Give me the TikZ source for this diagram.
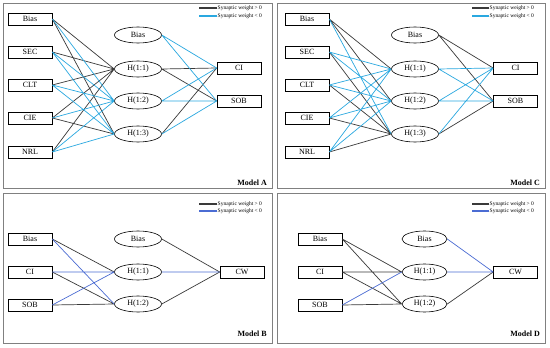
\documentclass[tikz,border=0pt]{standalone}
\usepackage{fontspec}
\setmainfont{Liberation Serif}
\usepackage{xcolor}
\usepackage{tikz}
\usetikzlibrary{shapes.geometric}
\definecolor{nnblack}{HTML}{3a3a3a}
\definecolor{nncyan}{HTML}{2aa8e0}
\definecolor{nnblue}{HTML}{4b6cd3}
\definecolor{nnframe}{HTML}{808080}

\begin{document}
\begin{tikzpicture}[x=1pt,y=-1pt,
  inbox/.style={draw=black,fill=white,line width=0.6pt,minimum width=44pt,minimum height=12pt,inner sep=0pt,font=\fontsize{8}{9}\selectfont},
  hidnode/.style={ellipse,draw=black,fill=white,line width=0.6pt,minimum width=47pt,minimum height=16pt,inner sep=0pt,font=\fontsize{8}{9}\selectfont},
  wpos/.style={nnblack,line width=0.7pt},
  wnegc/.style={nncyan,line width=0.7pt},
  wnegb/.style={nnblue,line width=0.7pt},
  legtext/.style={anchor=west,inner sep=0.5pt,font=\fontsize{5.5}{6}\selectfont},
  modeltag/.style={anchor=east,inner sep=0pt,font=\bfseries\fontsize{8}{9}\selectfont},
  panel/.style={draw=nnframe,line width=1pt}]
  \useasboundingbox (0,0) rectangle (550,348);
  \fill[white] (0,0) rectangle (550,348);
  % panels
  \draw[panel] (3,3) rectangle (272,188);
  \draw[panel] (277,3) rectangle (545,188);
  \draw[panel] (3,193) rectangle (272,343);
  \draw[panel] (277,193) rectangle (545,343);

  % Model A
  \node[inbox] (aIBias) at (30,19) {Bias};
  \node[inbox] (aSEC) at (30,52) {SEC};
  \node[inbox] (aCLT) at (30,85) {CLT};
  \node[inbox] (aCIE) at (30,118) {CIE};
  \node[inbox] (aNRL) at (30,152) {NRL};
  \node[hidnode] (aHBias) at (138,35) {Bias};
  \node[hidnode] (aH1) at (138,69) {H(1:1)};
  \node[hidnode] (aH2) at (138,101) {H(1:2)};
  \node[hidnode] (aH3) at (138,134) {H(1:3)};
  \node[inbox] (aCI) at (239,68) {CI};
  \node[inbox] (aSOB) at (239,101) {SOB};
  \draw[wpos] (aIBias.east) -- (aH1.west) (aIBias.east) -- (aH3.west)
    (aSEC.east) -- (aH1.west) (aCLT.east) -- (aH1.west)
    (aCIE.east) -- (aH1.west) (aCIE.east) -- (aH3.west) (aNRL.east) -- (aH1.west);
  \draw[wnegc] (aIBias.east) -- (aH2.west) (aSEC.east) -- (aH2.west) (aSEC.east) -- (aH3.west)
    (aCLT.east) -- (aH2.west) (aCLT.east) -- (aH3.west) (aCIE.east) -- (aH2.west)
    (aNRL.east) -- (aH2.west) (aNRL.east) -- (aH3.west);
  \draw[wpos] (aH1.east) -- (aCI.west) (aH1.east) -- (aSOB.west) (aH3.east) -- (aCI.west);
  \draw[wnegc] (aHBias.east) -- (aCI.west) (aHBias.east) -- (aSOB.west)
    (aH2.east) -- (aCI.west) (aH2.east) -- (aSOB.west) (aH3.east) -- (aSOB.west);
  \node[legtext] (aLegPos) at (217,8) {Synaptic weight > 0};
  \node[legtext] (aLegNeg) at (217,16) {Synaptic weight < 0};
  \draw[nnblack,line width=2.5pt] (199,8) -- (aLegPos.west);
  \draw[nncyan,line width=2.5pt] (199,16) -- (aLegNeg.west);
  \node[modeltag] (aTag) at (267,183) {Model A};

  % Model C
  \node[inbox] (cIBias) at (307,19) {Bias};
  \node[inbox] (cSEC) at (307,52) {SEC};
  \node[inbox] (cCLT) at (307,85) {CLT};
  \node[inbox] (cCIE) at (307,118) {CIE};
  \node[inbox] (cNRL) at (307,152) {NRL};
  \node[hidnode] (cHBias) at (415,35) {Bias};
  \node[hidnode] (cH1) at (415,69) {H(1:1)};
  \node[hidnode] (cH2) at (415,101) {H(1:2)};
  \node[hidnode] (cH3) at (415,134) {H(1:3)};
  \node[inbox] (cCI) at (515.5,68) {CI};
  \node[inbox] (cSOB) at (515.5,101) {SOB};
  \draw[wpos] (cIBias.east) -- (cH1.west) (cIBias.east) -- (cH2.west)
    (cSEC.east) -- (cH3.west) (cCLT.east) -- (cH3.west)
    (cCIE.east) -- (cH3.west) (cNRL.east) -- (cH3.west);
  \draw[wnegc] (cIBias.east) -- (cH3.west) (cSEC.east) -- (cH1.west) (cSEC.east) -- (cH2.west)
    (cCLT.east) -- (cH1.west) (cCLT.east) -- (cH2.west) (cCIE.east) -- (cH1.west)
    (cCIE.east) -- (cH2.west) (cNRL.east) -- (cH1.west) (cNRL.east) -- (cH2.west);
  \draw[wpos] (cHBias.east) -- (cCI.west) (cHBias.east) -- (cSOB.west) (cH3.east) -- (cSOB.west);
  \draw[wnegc] (cH1.east) -- (cCI.west) (cH1.east) -- (cSOB.west)
    (cH2.east) -- (cCI.west) (cH2.east) -- (cSOB.west) (cH3.east) -- (cCI.west);
  \node[legtext] (cLegPos) at (489,8) {Synaptic weight > 0};
  \node[legtext] (cLegNeg) at (489,16) {Synaptic weight < 0};
  \draw[nnblack,line width=2.5pt] (472,8) -- (cLegPos.west);
  \draw[nncyan,line width=2.5pt] (472,16) -- (cLegNeg.west);
  \node[modeltag] (cTag) at (540,183) {Model C};

  % Model B
  \node[inbox] (bIBias) at (30,239) {Bias};
  \node[inbox] (bCI) at (30,272) {CI};
  \node[inbox] (bSOB) at (30,305) {SOB};
  \node[hidnode] (bHBias) at (138,239) {Bias};
  \node[hidnode] (bH1) at (138,272) {H(1:1)};
  \node[hidnode] (bH2) at (138,304) {H(1:2)};
  \node[inbox] (bCW) at (242,272) {CW};
  \draw[wpos] (bIBias.east) -- (bH1.west) (bCI.east) -- (bH2.west) (bSOB.east) -- (bH2.west)
    (bHBias.east) -- (bCW.west) (bH2.east) -- (bCW.west);
  \draw[wnegb] (bIBias.east) -- (bH2.west) (bCI.east) -- (bH1.west) (bSOB.east) -- (bH1.west)
    (bH1.east) -- (bCW.west);
  \node[legtext] (bLegPos) at (217,204) {Synaptic weight > 0};
  \node[legtext] (bLegNeg) at (217,211) {Synaptic weight < 0};
  \draw[nnblack,line width=2.5pt] (199,204) -- (bLegPos.west);
  \draw[nnblue,line width=2.5pt] (199,211) -- (bLegNeg.west);
  \node[modeltag] (bTag) at (267,334) {Model B};

  % Model D
  \node[inbox] (dIBias) at (320,239) {Bias};
  \node[inbox] (dCI) at (320,272) {CI};
  \node[inbox] (dSOB) at (320,305) {SOB};
  \node[hidnode,minimum width=45pt] (dHBias) at (424.5,239) {Bias};
  \node[hidnode,minimum width=45pt] (dH1) at (424.5,272) {H(1:1)};
  \node[hidnode,minimum width=45pt] (dH2) at (424.5,304) {H(1:2)};
  \node[inbox] (dCW) at (515.5,272) {CW};
  \draw[wpos] (dIBias.east) -- (dH1.west) (dIBias.east) -- (dH2.west)
    (dCI.east) -- (dH1.west) (dCI.east) -- (dH2.west) (dSOB.east) -- (dH2.west)
    (dH2.east) -- (dCW.west);
  \draw[wnegb] (dSOB.east) -- (dH1.west) (dHBias.east) -- (dCW.west) (dH1.east) -- (dCW.west);
  \node[legtext] (dLegPos) at (489,204) {Synaptic weight > 0};
  \node[legtext] (dLegNeg) at (489,211) {Synaptic weight < 0};
  \draw[nnblack,line width=2.5pt] (472,204) -- (dLegPos.west);
  \draw[nnblue,line width=2.5pt] (472,211) -- (dLegNeg.west);
  \node[modeltag] (dTag) at (540,334) {Model D};
\end{tikzpicture}
\end{document}
